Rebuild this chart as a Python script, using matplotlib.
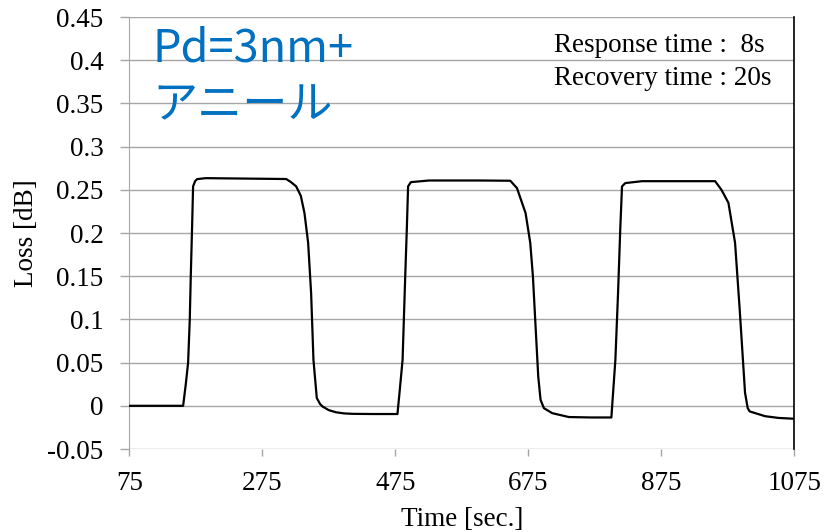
import numpy as np
import matplotlib.pyplot as plt

# 測定データ (読み取り値)
time_s = [75, 156, 160, 163.5, 166, 167.5, 169.5, 171, 174, 177, 190, 250, 311,
          318, 326, 333, 338.5, 344, 348.5, 352, 357, 362, 366, 375, 386, 398, 411, 440,
          478.3, 482, 486, 490, 492.5, 494.3, 498.5, 526, 600, 648,
          658, 671, 678, 682, 686, 690, 693.5, 698.5, 711, 736, 770,
          800, 803, 806, 810, 813.5, 816, 821, 846, 900, 956,
          965.5, 976, 986, 993, 1001, 1005, 1008, 1031, 1051, 1075]
loss_db = [0, 0, 0.025, 0.05, 0.1, 0.15, 0.2075, 0.254, 0.260, 0.2624, 0.2635, 0.263, 0.2625,
           0.259, 0.254, 0.243, 0.223, 0.1886, 0.13, 0.053, 0.009, 0.002, -0.001, -0.005, -0.0075, -0.0088, -0.0093, -0.0095,
           -0.0095, 0.02, 0.053, 0.15, 0.2075, 0.254, 0.2589, 0.2608, 0.2608, 0.2605,
           0.252, 0.223, 0.1886, 0.15, 0.0918, 0.034, 0.007, -0.0027, -0.0085, -0.013, -0.0135,
           -0.0135, 0.02, 0.053, 0.13, 0.2075, 0.254, 0.2578, 0.26, 0.26, 0.26,
           0.25, 0.235, 0.1886, 0.111, 0.015, -0.0027, -0.0065, -0.012, -0.014, -0.015]

xticks = [75, 275, 475, 675, 875, 1075]
yticks = np.round(np.arange(-0.05, 0.451, 0.05), 2)
ytick_labels = ['-0.05', '0', '0.05', '0.1', '0.15', '0.2', '0.25', '0.3', '0.35', '0.4', '0.45']

serif = 'Liberation Serif'
grid_c = '#a6a6a6'

fig = plt.figure(figsize=(8.35, 5.32), dpi=100)
ax = fig.add_axes([0.1548, 0.156, 0.7964, 0.812])

ax.plot(time_s, loss_db, color='black', lw=1.6, zorder=3)

ax.set_xlim(75, 1075)
ax.set_ylim(-0.05, 0.45)
ax.set_xticks(xticks)
ax.set_yticks(yticks)
ax.set_yticklabels(ytick_labels)
ax.yaxis.grid(True, color=grid_c, lw=1)
ax.set_axisbelow(True)

for s in ['top', 'bottom']:
    ax.spines[s].set_visible(False)
ax.spines['left'].set_color(grid_c)
ax.spines['right'].set_color('black')
ax.spines['right'].set_linewidth(1.2)

ax.tick_params(axis='both', colors=grid_c, width=1, labelcolor='black')
ax.tick_params(axis='y', length=6.5, pad=12)
ax.tick_params(axis='x', length=5, pad=11)
for lbl in ax.get_xticklabels() + ax.get_yticklabels():
    lbl.set_fontfamily(serif)
    lbl.set_fontsize(19.5)

ax.set_xlabel('Time [sec.]', fontfamily=serif, fontsize=19.5, labelpad=8)
ax.set_ylabel('Loss [dB]', fontfamily=serif, fontsize=19.5, labelpad=6)

ax.text(0.035, 0.981, 'Pd=3nm+\nアニール', transform=ax.transAxes, va='top', ha='left',
        color='#0070c0', fontsize=32.5, linespacing=1.3,
        family=['Noto Sans CJK JP', 'DejaVu Sans'])
ax.text(0.639, 0.962, 'Response time :  8s\nRecovery time : 20s', transform=ax.transAxes,
        va='top', ha='left', fontfamily=serif, fontsize=19.5, linespacing=1.4)

fig.savefig('out.png', dpi=100)
